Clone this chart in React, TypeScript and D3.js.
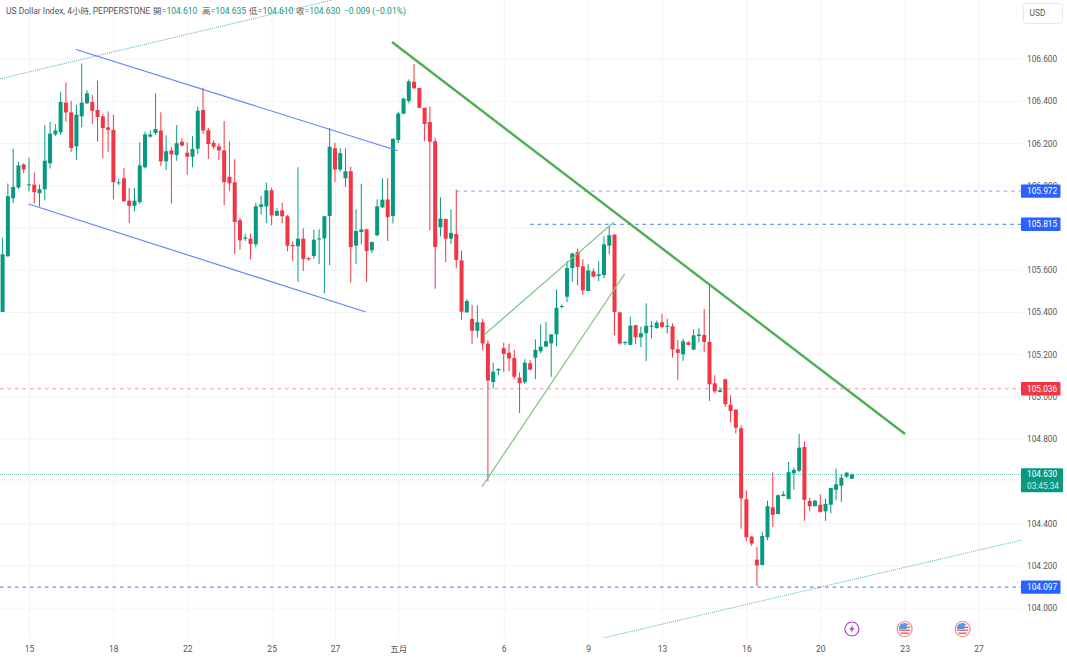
import { useEffect, useRef } from 'react';
import * as d3 from 'd3';

const W = 1067;
const H = 657;
const plotW = 1022;
const plotH = 638;

const opens = [
  105.400, 105.664, 105.938, 105.989, 106.098, 106.001, 106.003, 105.962, 105.981, 106.104, 106.241, 106.251, 106.391, 106.345, 106.184, 106.326, 106.388, 106.394, 106.356, 106.326,
  106.274, 106.262, 106.011, 106.033, 105.927, 105.902, 105.921, 106.085, 106.230, 106.247, 106.259, 106.113, 106.165, 106.143, 106.206, 106.154, 106.135, 106.173, 106.356, 106.260,
  106.201, 106.184, 106.165, 106.040, 106.014, 105.834, 105.747, 105.747, 105.720, 105.897, 105.900, 105.976, 105.856, 105.881, 105.853, 105.717, 105.711, 105.747, 105.655, 105.665,
  105.744, 105.748, 105.854, 106.175, 106.074, 106.033, 106.066, 105.714, 105.778, 105.791, 105.692, 105.763, 105.895, 105.932, 105.854, 106.214, 106.339, 106.399, 106.490, 106.460,
  106.367, 106.299, 106.208, 105.801, 105.840, 105.747, 105.769, 105.644, 105.398, 105.367, 105.311, 105.351, 105.250, 105.068, 105.123, 105.228, 105.207, 105.182, 105.089, 105.067,
  105.157, 105.183, 105.213, 105.236, 105.251, 105.294, 105.425, 105.472, 105.607, 105.684, 105.616, 105.499, 105.592, 105.570, 105.575, 105.714, 105.766, 105.398, 105.253, 105.244,
  105.337, 105.280, 105.299, 105.330, 105.324, 105.351, 105.330, 105.332, 105.223, 105.199, 105.256, 105.222, 105.286, 105.291, 105.258, 105.062, 105.021, 105.081, 104.961, 104.937,
  104.849, 104.513, 104.336, 104.227, 104.202, 104.333, 104.475, 104.443, 104.528, 104.514, 104.636, 104.648, 104.760, 104.505, 104.480, 104.487, 104.456, 104.487, 104.558, 104.577,
  104.620, 104.610,
];
const highs = [
  105.752, 106.008, 106.173, 106.112, 106.104, 106.131, 106.060, 106.003, 106.285, 106.300, 106.289, 106.440, 106.486, 106.399, 106.380, 106.577, 106.450, 106.427, 106.495, 106.337,
  106.350, 106.334, 106.030, 106.082, 105.986, 105.987, 106.203, 106.254, 106.259, 106.435, 106.345, 106.236, 106.180, 106.285, 106.222, 106.203, 106.232, 106.372, 106.462, 106.272,
  106.212, 106.198, 106.304, 106.209, 106.123, 105.846, 105.769, 105.771, 105.917, 105.950, 106.012, 105.988, 105.892, 105.917, 105.859, 105.733, 106.085, 105.796, 105.658, 105.789,
  105.791, 105.854, 106.272, 106.201, 106.175, 106.175, 106.088, 105.886, 106.007, 105.794, 105.734, 105.933, 106.033, 106.033, 106.222, 106.348, 106.414, 106.501, 106.574, 106.462,
  106.367, 106.372, 106.224, 105.943, 105.842, 105.886, 105.979, 105.690, 105.460, 105.434, 105.431, 105.367, 105.266, 105.160, 105.133, 105.254, 105.250, 105.221, 105.114, 105.176,
  105.172, 105.270, 105.341, 105.352, 105.294, 105.507, 105.436, 105.641, 105.681, 105.701, 105.649, 105.626, 105.605, 105.641, 105.758, 105.807, 105.768, 105.398, 105.261, 105.378,
  105.340, 105.330, 105.441, 105.357, 105.359, 105.392, 105.368, 105.346, 105.267, 105.274, 105.261, 105.318, 105.323, 105.414, 105.529, 105.100, 105.043, 105.084, 105.005, 104.939,
  104.863, 104.555, 104.339, 104.287, 104.360, 104.506, 104.641, 104.536, 104.551, 104.690, 104.663, 104.822, 104.787, 104.521, 104.511, 104.536, 104.516, 104.568, 104.659, 104.631,
  104.641, 104.635,
];
const lows = [
  105.400, 105.660, 105.914, 105.982, 106.057, 105.970, 105.913, 105.899, 105.929, 106.079, 106.233, 106.238, 106.300, 106.158, 106.120, 106.274, 106.385, 106.290, 106.206, 106.128,
  106.158, 105.932, 106.001, 105.921, 105.820, 105.877, 105.910, 106.079, 106.225, 106.238, 106.091, 106.072, 105.913, 106.116, 106.183, 106.049, 106.085, 106.148, 106.243, 106.124,
  106.171, 106.118, 105.906, 105.973, 105.676, 105.695, 105.736, 105.649, 105.706, 105.861, 105.821, 105.810, 105.853, 105.821, 105.687, 105.641, 105.542, 105.594, 105.643, 105.652,
  105.627, 105.488, 105.621, 106.015, 106.064, 105.992, 105.539, 105.627, 105.720, 105.542, 105.679, 105.758, 105.892, 105.736, 105.819, 106.200, 106.336, 106.388, 106.457, 106.364,
  106.209, 105.786, 105.510, 105.758, 105.636, 105.722, 105.606, 105.363, 105.396, 105.248, 105.278, 105.218, 104.599, 105.037, 105.100, 105.116, 105.119, 105.082, 104.921, 105.059,
  105.123, 105.082, 105.204, 105.232, 105.093, 105.237, 105.417, 105.447, 105.542, 105.526, 105.480, 105.499, 105.564, 105.545, 105.559, 105.673, 105.289, 105.245, 105.242, 105.242,
  105.247, 105.234, 105.168, 105.274, 105.321, 105.324, 105.299, 105.184, 105.078, 105.168, 105.242, 105.218, 105.255, 105.209, 104.978, 105.015, 105.018, 104.950, 104.877, 104.825,
  104.374, 104.315, 104.292, 104.101, 104.200, 104.319, 104.382, 104.442, 104.527, 104.513, 104.558, 104.641, 104.411, 104.456, 104.480, 104.450, 104.411, 104.446, 104.510, 104.501,
  104.615, 104.610,
];
const closes = [
  105.673, 105.948, 105.992, 106.094, 106.075, 106.004, 105.967, 105.981, 106.116, 106.244, 106.259, 106.394, 106.345, 106.176, 106.334, 106.391, 106.435, 106.353, 106.323, 106.271,
  106.262, 106.014, 106.014, 105.924, 105.902, 105.927, 106.094, 106.240, 106.240, 106.266, 106.113, 106.161, 106.146, 106.199, 106.188, 106.135, 106.172, 106.353, 106.259, 106.195,
  106.182, 106.165, 106.015, 106.009, 105.826, 105.739, 105.753, 105.722, 105.900, 105.909, 105.976, 105.857, 105.878, 105.853, 105.714, 105.711, 105.747, 105.651, 105.649, 105.742,
  105.748, 105.853, 106.182, 106.075, 106.152, 106.066, 105.707, 105.783, 105.791, 105.688, 105.731, 105.900, 105.932, 105.849, 106.220, 106.340, 106.410, 106.492, 106.459, 106.367,
  106.290, 106.206, 105.707, 105.842, 105.747, 105.774, 105.646, 105.401, 105.452, 105.311, 105.351, 105.251, 105.075, 105.117, 105.130, 105.201, 105.180, 105.093, 105.063, 105.160,
  105.127, 105.220, 105.236, 105.261, 105.294, 105.420, 105.428, 105.608, 105.676, 105.613, 105.502, 105.597, 105.567, 105.578, 105.720, 105.763, 105.400, 105.250, 105.258, 105.335,
  105.280, 105.299, 105.334, 105.334, 105.349, 105.329, 105.334, 105.222, 105.206, 105.261, 105.244, 105.289, 105.293, 105.258, 105.057, 105.024, 105.029, 104.963, 104.931, 104.852,
  104.517, 104.333, 104.303, 104.200, 104.339, 104.480, 104.439, 104.532, 104.536, 104.641, 104.652, 104.757, 104.510, 104.480, 104.506, 104.453, 104.491, 104.566, 104.584, 104.615,
  104.639, 104.630,
];

const priceTicks = [104.0, 104.2, 104.4, 104.6, 104.8, 105.0, 105.2, 105.4, 105.6, 105.8, 106.0, 106.2, 106.4, 106.6];
// 104.600 and 105.800 sit fully behind price tags, so they are not labelled
const priceLabelTicks = [104.0, 104.2, 104.4, 104.8, 105.0, 105.2, 105.4, 105.6, 106.0, 106.2, 106.4, 106.6];
const timeTickIdx = [5, 21, 35, 51, 63, 75, 95, 111, 125, 141, 155, 171, 185];
const timeTickLabels = ['15', '18', '22', '25', '27', '五月', '6', '9', '13', '16', '20', '23', '27'];

// drawings, as [bar index, price] pairs
const channelTop = [[13.91, 106.643], [74.9, 106.163]];
const channelBottom = [[4.91, 105.911], [68.83, 105.4]];
const mainTrend = [[73.82, 106.678], [171.07, 104.822]];
const wedgeTop = [[91.26, 105.291], [115.9, 105.826]];
const wedgeBottom = [[90.88, 104.573], [117.93, 105.58]];
const dottedTop = [[-0.49, 106.504], [62.45, 106.877]];
const dottedBottom = [[113.8, 103.856], [193.25, 104.32]];

const levelPrices = [105.972, 105.815, 105.036, 104.097];
const levelStartIdx = [86, 100, -1, -1];
const levelColors = ['#2962ff', '#2962ff', '#f23645', '#2962ff'];
const levelOpacity = [0.6, 0.9, 0.55, 0.9];

const lastPrice = 104.63;
const countdown = '03:45:34';

const headerTexts = ['US Dollar Index, 4小時, PEPPERSTONE', '開', '=104.610', '高', '=104.635', '低', '=104.610', '收', '=104.630', '−0.009 (−0.01%)'];
const headerXs = [6, 153, 161.8, 202, 210.5, 249, 257.8, 296, 304.6, 344];
const headerIsValue = [false, false, true, false, true, false, true, false, true, true];

const flagEventIdx = [171, 182];
const boltEventIdx = [161];

const GREEN = '#089981';
const RED = '#f23645';
const GRID = '#f3f4f6';
const FONT = 'Roboto, sans-serif';
const CJK = 'Roboto, "Noto Sans CJK TC", sans-serif';

export default function App() {
  const ref = useRef<SVGSVGElement>(null);

  useEffect(() => {
    const node = ref.current;
    if (!node) return;
    const svg = d3.select(node);
    svg.selectAll('*').remove();

    const x = d3.scaleLinear().domain([0, 161]).range([2.6, 851.9]);
    const y = d3.scaleLinear().domain([104, 106.6]).range([607.6, 58.5]);

    const defs = svg.append('defs');
    defs.append('clipPath').attr('id', 'plot').append('rect').attr('width', plotW).attr('height', plotH);
    defs.append('clipPath').attr('id', 'flag').append('circle').attr('r', 6);

    // grid
    svg.append('g').attr('transform', `translate(${plotW},0)`)
      .call(d3.axisLeft(y).tickValues(priceTicks).tickSize(plotW).tickFormat('' as never))
      .call(g => g.select('.domain').remove())
      .call(g => g.selectAll('line').attr('stroke', GRID));

    svg.append('g').attr('transform', `translate(0,${plotH})`)
      .call(d3.axisTop(x).tickValues(timeTickIdx).tickSize(plotH).tickFormat('' as never))
      .call(g => g.select('.domain').remove())
      .call(g => g.selectAll('line').attr('stroke', GRID));

    const plot = svg.append('g').attr('clip-path', 'url(#plot)');

    // horizontal levels
    levelPrices.forEach((p, i) => {
      plot.append('line')
        .attr('x1', levelStartIdx[i] < 0 ? 0 : x(levelStartIdx[i])).attr('x2', plotW)
        .attr('y1', y(p)).attr('y2', y(p))
        .attr('stroke', levelColors[i]).attr('stroke-opacity', levelOpacity[i])
        .attr('stroke-dasharray', '3.5 4');
    });
    plot.append('line')
      .attr('x1', 0).attr('x2', plotW).attr('y1', y(lastPrice)).attr('y2', y(lastPrice))
      .attr('stroke', GREEN).attr('stroke-opacity', 0.55).attr('stroke-dasharray', '1 1');

    // candles
    const candle = plot.selectAll('g.candle').data(opens.map((_, i) => i)).enter().append('g').attr('class', 'candle');
    const col = (i: number) => (closes[i] >= opens[i] ? GREEN : RED);
    candle.append('line')
      .attr('x1', i => x(i)).attr('x2', i => x(i))
      .attr('y1', i => y(highs[i])).attr('y2', i => y(lows[i]))
      .attr('stroke', col);
    candle.append('rect')
      .attr('x', i => x(i) - 2).attr('width', 4)
      .attr('y', i => y(Math.max(opens[i], closes[i])))
      .attr('height', i => Math.max(1, Math.abs(y(opens[i]) - y(closes[i]))))
      .attr('fill', col);

    // trend lines
    const line = d3.line<number[]>().x(d => x(d[0])).y(d => y(d[1]));
    const drawLine = (pts: number[][], color: string, width: number, dash?: string, op = 1) => {
      const p = plot.append('path').datum(pts).attr('d', line).attr('fill', 'none')
        .attr('stroke', color).attr('stroke-width', width).attr('stroke-opacity', op);
      if (dash) p.attr('stroke-dasharray', dash);
    };
    drawLine(dottedTop, GREEN, 1, '1 1', 0.7);
    drawLine(dottedBottom, GREEN, 1, '1 1', 0.7);
    drawLine(channelTop, '#5b84f5', 1.1);
    drawLine(channelBottom, '#5b84f5', 1.1);
    drawLine(wedgeTop, '#81c784', 1.2);
    drawLine(wedgeBottom, '#81c784', 1.2);
    drawLine(mainTrend, '#4caf50', 2.4);

    // price axis
    svg.append('g').attr('transform', `translate(1027,0.4)`)
      .call(d3.axisRight(y).tickValues(priceLabelTicks).tickSize(0).tickPadding(0).tickFormat(d3.format('.3f') as never))
      .call(g => g.select('.domain').remove())
      .call(g => g.selectAll('text').attr('fill', '#555').attr('font-size', 8.3).attr('font-family', FONT));

    // time axis
    svg.append('g').attr('transform', `translate(0,${plotH})`)
      .call(d3.axisBottom(x).tickValues(timeTickIdx).tickSize(0).tickPadding(8).tickFormat((_, i) => timeTickLabels[i]))
      .call(g => g.select('.domain').remove())
      .call(g => g.selectAll('text').attr('fill', '#555').attr('font-size', 8.5).attr('font-family', CJK));

    // price labels
    const priceTag = (p: number, color: string) => {
      const cy = y(p);
      svg.append('rect').attr('x', 1021).attr('y', cy - 6.7).attr('width', 39.5).attr('height', 13.4).attr('fill', color).attr('rx', 1);
      svg.append('text').attr('x', 1027).attr('y', cy).attr('dy', '0.35em')
        .attr('fill', '#fff').attr('font-size', 8.3).attr('font-family', FONT).text(d3.format('.3f')(p));
    };
    levelPrices.forEach((p, i) => priceTag(p, levelColors[i]));

    svg.append('rect').attr('x', 1021).attr('y', y(lastPrice) - 6.3).attr('width', 42).attr('height', 24).attr('fill', GREEN).attr('rx', 1);
    svg.append('text').attr('x', 1027).attr('y', y(lastPrice)).attr('dy', '0.35em')
      .attr('fill', '#fff').attr('font-size', 8.3).attr('font-family', FONT).text(d3.format('.3f')(lastPrice));
    svg.append('text').attr('x', 1027).attr('y', y(lastPrice) + 11.5).attr('dy', '0.35em')
      .attr('fill', '#fff').attr('fill-opacity', 0.85).attr('font-size', 8.3).attr('font-family', FONT).text(countdown);

    // currency button
    svg.append('rect').attr('x', 1023.5).attr('y', 3.5).attr('width', 39).attr('height', 20).attr('rx', 3)
      .attr('fill', '#fff').attr('stroke', '#e6e8ee');
    svg.append('text').attr('x', 1037.5).attr('y', 13.5).attr('dy', '0.35em').attr('text-anchor', 'middle')
      .attr('fill', '#555').attr('font-size', 8.3).attr('font-family', FONT).text('USD');

    // legend line
    headerTexts.forEach((t, i) => {
      svg.append('text').attr('x', headerXs[i]).attr('y', 11).attr('dy', '0.35em')
        .attr('fill', headerIsValue[i] ? '#089981' : '#555')
        .attr('font-size', 8.5).attr('font-family', CJK).text(t);
    });

    // event markers
    boltEventIdx.forEach(i => {
      const g = svg.append('g').attr('transform', `translate(${x(i)},629)`);
      g.append('circle').attr('r', 7).attr('fill', '#fff').attr('stroke', '#ab47bc').attr('stroke-width', 1.2);
      g.append('path').attr('d', 'M1.2 -4.5 L-2.6 0.8 H-0.3 L-1.2 4.5 L2.6 -0.9 H0.3 Z').attr('fill', '#ab47bc');
    });
    flagEventIdx.forEach(i => {
      const g = svg.append('g').attr('transform', `translate(${x(i)},629)`);
      g.append('circle').attr('r', 7.5).attr('fill', '#fff').attr('stroke', '#f58a8a').attr('stroke-width', 1.2);
      const f = g.append('g').attr('clip-path', 'url(#flag)');
      f.append('rect').attr('x', -6).attr('y', -6).attr('width', 12).attr('height', 12).attr('fill', '#fff');
      [-5.5, -2.5, 0.5, 3.5].forEach(sy => {
        f.append('rect').attr('x', -6).attr('y', sy).attr('width', 12).attr('height', 1.5).attr('fill', '#f0646c');
      });
      f.append('rect').attr('x', -6).attr('y', -6).attr('width', 8).attr('height', 6).attr('fill', '#4f9be8');
    });
  }, []);

  return (
    <svg ref={ref} width={W} height={H} viewBox={`0 0 ${W} ${H}`}
      style={{ position: 'absolute', left: 0, top: 0, display: 'block', background: '#fff' }} />
  );
}
